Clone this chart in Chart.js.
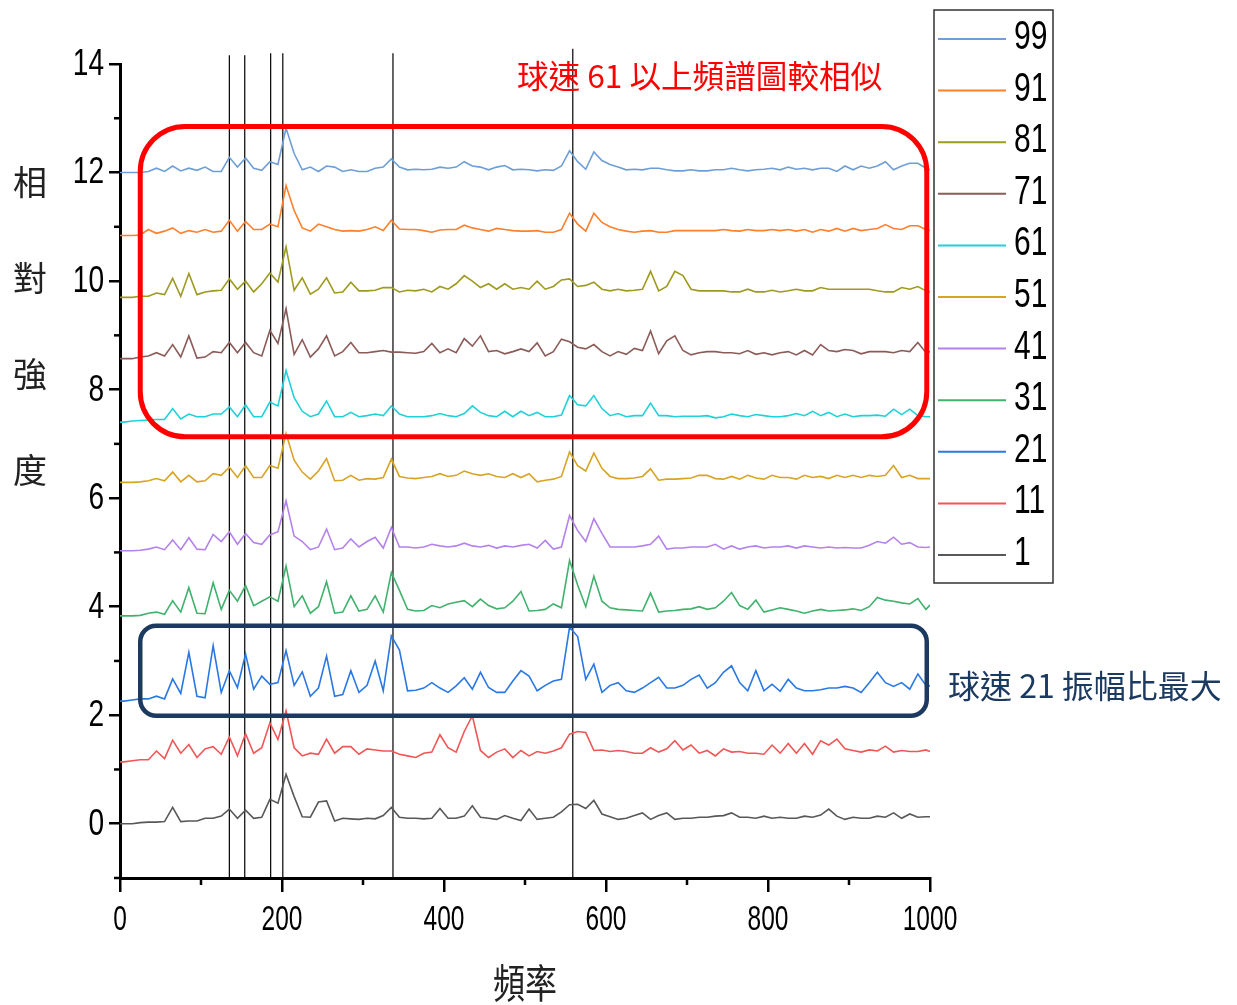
<!DOCTYPE html>
<html>
<head>
<meta charset="utf-8">
<script src="https://cdn.jsdelivr.net/npm/chart.js@4.4.1/dist/chart.umd.min.js"></script>
<style>
  html, body { margin: 0; padding: 0; background: #fff; }
  canvas { display: block; }
</style>
</head>
<body>
<canvas id="miGrafico" width="1237" height="1005"></canvas>
<script>
// frecuencias (eje x)
const frecuencias = [0,
  5, 15, 25, 35, 45, 55, 65, 75, 85, 95,
  105, 115, 125, 135, 145, 155, 165, 175, 185, 195,
  205, 215, 225, 235, 245, 255, 265, 275, 285, 295,
  305, 315, 325, 335, 345, 355, 365, 375, 385, 395,
  405, 415, 425, 435, 445, 455, 465, 475, 485, 495,
  505, 515, 525, 535, 545, 555, 565, 575, 585, 595,
  605, 615, 625, 635, 645, 655, 665, 675, 685, 695,
  705, 715, 725, 735, 745, 755, 765, 775, 785, 795,
  805, 815, 825, 835, 845, 855, 865, 875, 885, 895,
  905, 915, 925, 935, 945, 955, 965, 975, 985, 995,
  1000]

// intensidad relativa por velocidad de bola
const v99 = [12.0,
  12.0, 12.0, 12.0, 12.02, 12.08, 12.02, 12.12, 12.03, 12.08, 12.04,
  12.1, 12.02, 12.02, 12.28, 12.1, 12.27, 12.08, 12.04, 12.2, 12.15,
  12.82, 12.35, 12.05, 12.1, 12.02, 12.12, 12.1, 12.02, 12.05, 12.02,
  12.02, 12.08, 12.1, 12.25, 12.1, 12.05, 12.06, 12.05, 12.06, 12.1,
  12.08, 12.1, 12.2, 12.12, 12.1, 12.05, 12.1, 12.13, 12.05, 12.06,
  12.05, 12.03, 12.05, 12.04, 12.12, 12.4, 12.2, 12.06, 12.38, 12.22,
  12.15, 12.1, 12.05, 12.06, 12.05, 12.08, 12.08, 12.05, 12.03, 12.03,
  12.05, 12.03, 12.03, 12.05, 12.05, 12.08, 12.05, 12.03, 12.05, 12.06,
  12.08, 12.05, 12.1, 12.06, 12.08, 12.05, 12.08, 12.08, 12.02, 12.12,
  12.05, 12.12, 12.08, 12.12, 12.2, 12.05, 12.12, 12.17, 12.17, 12.08,
  12.05]
const v91 = [10.84,
  10.84, 10.84, 10.85, 10.95, 10.88, 10.92, 10.98, 10.88, 10.93, 10.9,
  10.95, 10.9, 10.92, 11.12, 10.92, 11.1, 10.95, 10.95, 11.05, 11.0,
  11.76, 11.3, 10.98, 10.92, 11.05, 11.0, 10.95, 10.92, 10.93, 10.92,
  10.95, 11.0, 10.93, 11.12, 10.96, 10.95, 10.95, 10.93, 10.9, 10.94,
  10.95, 10.95, 11.03, 10.98, 10.95, 10.92, 10.97, 10.95, 10.93, 10.92,
  10.92, 10.93, 10.9, 10.9, 10.95, 11.25, 11.05, 10.92, 11.25, 11.08,
  11.0, 10.95, 10.92, 10.9, 10.92, 10.93, 10.9, 10.9, 10.93, 10.93,
  10.93, 10.93, 10.93, 10.93, 10.95, 10.93, 10.92, 10.95, 10.93, 10.93,
  10.95, 10.93, 10.95, 10.92, 10.95, 10.9, 10.95, 10.92, 10.97, 10.92,
  10.97, 10.93, 10.95, 10.97, 11.04, 10.97, 10.95, 11.02, 11.02, 10.95,
  10.93]
const v81 = [9.7,
  9.7, 9.7, 9.72, 9.72, 9.78, 9.75, 10.05, 9.72, 10.14, 9.75,
  9.8, 9.82, 9.83, 10.04, 9.85, 10.0, 9.8, 9.95, 10.15, 9.98,
  10.63, 9.83, 10.06, 9.76, 9.85, 10.06, 9.78, 9.8, 9.98, 9.82,
  9.82, 9.83, 9.88, 9.88, 9.8, 9.83, 9.82, 9.85, 9.8, 9.9,
  9.85, 9.95, 10.1, 10.0, 9.88, 9.95, 9.85, 9.95, 9.85, 9.88,
  9.85, 10.0, 9.85, 9.9, 10.02, 10.04, 9.9, 9.92, 9.98, 9.85,
  9.82, 9.85, 9.82, 9.83, 9.85, 10.18, 9.82, 9.9, 10.18, 10.1,
  9.85, 9.82, 9.82, 9.82, 9.82, 9.8, 9.8, 9.85, 9.8, 9.8,
  9.83, 9.8, 9.82, 9.85, 9.82, 9.82, 9.88, 9.85, 9.85, 9.85,
  9.85, 9.85, 9.85, 9.82, 9.8, 9.8, 9.88, 9.85, 9.9, 9.82,
  9.8]
const v71 = [8.57,
  8.57, 8.57, 8.6, 8.62, 8.68, 8.62, 8.83, 8.6, 8.99, 8.58,
  8.6, 8.7, 8.68, 8.87, 8.68, 8.87, 8.68, 8.62, 9.09, 8.85,
  9.49, 8.65, 8.92, 8.6, 8.75, 8.99, 8.62, 8.7, 8.87, 8.68,
  8.68, 8.7, 8.72, 8.69, 8.69, 8.68, 8.67, 8.7, 8.85, 8.68,
  8.75, 8.68, 8.94, 8.8, 8.99, 8.7, 8.72, 8.66, 8.7, 8.75,
  8.7, 8.86, 8.62, 8.7, 8.93, 8.88, 8.78, 8.75, 8.83, 8.7,
  8.62, 8.7, 8.65, 8.76, 8.72, 9.08, 8.66, 8.9, 8.99, 8.72,
  8.64, 8.68, 8.7, 8.7, 8.68, 8.68, 8.66, 8.72, 8.65, 8.68,
  8.64, 8.68, 8.7, 8.64, 8.72, 8.64, 8.83, 8.72, 8.7, 8.74,
  8.72, 8.66, 8.7, 8.7, 8.7, 8.68, 8.72, 8.7, 8.87, 8.68,
  8.7]
const v61 = [7.4,
  7.4, 7.42, 7.43, 7.44, 7.45, 7.45, 7.65, 7.46, 7.55, 7.5,
  7.5, 7.55, 7.55, 7.68, 7.5, 7.72, 7.5, 7.5, 7.77, 7.7,
  8.35, 7.85, 7.6, 7.5, 7.55, 7.79, 7.5, 7.5, 7.58, 7.5,
  7.52, 7.55, 7.52, 7.7, 7.55, 7.5, 7.5, 7.5, 7.52, 7.56,
  7.52, 7.5, 7.56, 7.7, 7.58, 7.52, 7.5, 7.6, 7.5, 7.6,
  7.52, 7.58, 7.5, 7.5, 7.53, 7.89, 7.72, 7.7, 7.89, 7.65,
  7.52, 7.56, 7.5, 7.52, 7.52, 7.75, 7.52, 7.52, 7.5, 7.51,
  7.51, 7.51, 7.52, 7.48, 7.5, 7.55, 7.52, 7.5, 7.54, 7.52,
  7.5, 7.5, 7.52, 7.56, 7.52, 7.6, 7.52, 7.58, 7.5, 7.55,
  7.5, 7.52, 7.52, 7.53, 7.51, 7.64, 7.54, 7.64, 7.52, 7.5,
  7.5]
const v51 = [6.29,
  6.29, 6.29, 6.3, 6.32, 6.36, 6.32, 6.48, 6.3, 6.42, 6.3,
  6.32, 6.45, 6.42, 6.57, 6.38, 6.6, 6.38, 6.38, 6.6, 6.55,
  7.19, 6.7, 6.48, 6.35, 6.5, 6.73, 6.32, 6.33, 6.42, 6.33,
  6.36, 6.35, 6.38, 6.72, 6.4, 6.37, 6.36, 6.38, 6.4, 6.45,
  6.4, 6.42, 6.5, 6.45, 6.42, 6.45, 6.4, 6.38, 6.45, 6.38,
  6.45, 6.3, 6.33, 6.35, 6.4, 6.85, 6.6, 6.5, 6.83, 6.55,
  6.4, 6.36, 6.36, 6.37, 6.4, 6.54, 6.33, 6.35, 6.35, 6.36,
  6.37, 6.42, 6.42, 6.36, 6.35, 6.4, 6.35, 6.42, 6.37, 6.35,
  6.42, 6.38, 6.38, 6.35, 6.42, 6.38, 6.4, 6.36, 6.42, 6.38,
  6.42, 6.38, 6.42, 6.4, 6.42, 6.6, 6.38, 6.42, 6.36, 6.36,
  6.36]
const v41 = [5.03,
  5.03, 5.03, 5.04, 5.06, 5.1, 5.05, 5.23, 5.05, 5.27, 5.06,
  5.05, 5.33, 5.2, 5.38, 5.15, 5.35, 5.18, 5.15, 5.32, 5.38,
  5.95, 5.3, 5.2, 5.05, 5.1, 5.43, 5.05, 5.08, 5.25, 5.1,
  5.2, 5.28, 5.08, 5.46, 5.1, 5.1, 5.08, 5.1, 5.15, 5.12,
  5.1, 5.12, 5.17, 5.12, 5.1, 5.13, 5.08, 5.12, 5.1, 5.13,
  5.15, 5.08, 5.22, 5.06, 5.1, 5.68, 5.4, 5.2, 5.62, 5.35,
  5.1, 5.1, 5.1, 5.1, 5.12, 5.15, 5.3, 5.06, 5.08, 5.08,
  5.1, 5.1, 5.1, 5.15, 5.06, 5.12, 5.06, 5.1, 5.12, 5.08,
  5.1, 5.1, 5.12, 5.08, 5.12, 5.1, 5.08, 5.1, 5.08, 5.09,
  5.08, 5.08, 5.13, 5.2, 5.17, 5.28, 5.15, 5.18, 5.1, 5.09,
  5.1]
const v31 = [3.83,
  3.83, 3.83, 3.84, 3.88, 3.9, 3.86, 4.11, 3.9, 4.35, 3.88,
  3.87, 4.44, 3.95, 4.3, 4.1, 4.39, 4.02, 4.1, 4.18, 4.1,
  4.75, 4.0, 4.2, 3.88, 4.0, 4.46, 3.88, 3.9, 4.2, 3.92,
  3.95, 4.2, 3.9, 4.63, 4.3, 3.95, 3.92, 3.93, 4.02, 3.98,
  4.05, 4.08, 4.11, 4.0, 4.14, 4.02, 3.96, 3.98, 4.1, 4.28,
  3.92, 3.93, 3.95, 4.05, 3.98, 4.85, 4.4, 4.0, 4.56, 4.1,
  3.98, 3.95, 3.94, 3.93, 3.92, 4.25, 3.9, 3.92, 3.93, 3.95,
  3.96, 4.0, 3.95, 3.98, 4.1, 4.26, 4.02, 3.95, 4.12, 3.9,
  3.94, 3.98, 3.95, 3.92, 3.88, 3.92, 3.95, 3.92, 3.93, 3.94,
  3.96, 3.93, 4.0, 4.17, 4.12, 4.1, 4.07, 4.05, 4.15, 3.95,
  4.03]
const v21 = [2.26,
  2.26, 2.28, 2.3, 2.3, 2.35, 2.3, 2.67, 2.4, 3.16, 2.35,
  2.32, 3.28, 2.42, 2.82, 2.51, 3.13, 2.48, 2.72, 2.57, 2.6,
  3.19, 2.55, 2.8, 2.35, 2.5, 3.09, 2.35, 2.38, 2.82, 2.42,
  2.55, 3.0, 2.45, 3.46, 3.2, 2.45, 2.46, 2.5, 2.6, 2.5,
  2.42, 2.54, 2.69, 2.48, 2.79, 2.51, 2.42, 2.42, 2.63, 2.82,
  2.72, 2.45, 2.55, 2.63, 2.66, 3.62, 3.45, 2.66, 2.94, 2.42,
  2.55, 2.6, 2.45, 2.42, 2.5, 2.6, 2.7, 2.5, 2.5, 2.55,
  2.66, 2.74, 2.5, 2.6, 2.79, 2.91, 2.6, 2.45, 2.82, 2.45,
  2.57, 2.44, 2.66, 2.5, 2.45, 2.45, 2.47, 2.5, 2.5, 2.53,
  2.5, 2.42, 2.6, 2.79, 2.6, 2.53, 2.6, 2.48, 2.76, 2.55,
  2.54]
const v11 = [1.14,
  1.14, 1.16, 1.18, 1.18, 1.34, 1.2, 1.54, 1.3, 1.46, 1.22,
  1.38, 1.42, 1.28, 1.6, 1.25, 1.66, 1.3, 1.4, 1.86, 1.55,
  2.08, 1.4, 1.25, 1.3, 1.28, 1.56, 1.3, 1.42, 1.42, 1.28,
  1.38, 1.36, 1.34, 1.34, 1.28, 1.25, 1.22, 1.3, 1.32, 1.64,
  1.4, 1.32, 1.7, 1.99, 1.35, 1.22, 1.32, 1.38, 1.22, 1.35,
  1.25, 1.33, 1.3, 1.34, 1.4, 1.65, 1.7, 1.68, 1.35, 1.36,
  1.33, 1.35, 1.33, 1.3, 1.3, 1.4, 1.32, 1.38, 1.53, 1.36,
  1.45, 1.3, 1.35, 1.25, 1.38, 1.32, 1.33, 1.3, 1.3, 1.28,
  1.45, 1.3, 1.48, 1.3, 1.48, 1.28, 1.53, 1.45, 1.56, 1.38,
  1.35, 1.32, 1.36, 1.34, 1.43, 1.32, 1.35, 1.33, 1.33, 1.36,
  1.33]
const v1 = [0.0,
  0.0, 0.0, 0.02, 0.03, 0.03, 0.04, 0.3, 0.04, 0.05, 0.05,
  0.1, 0.1, 0.14, 0.27, 0.1, 0.25, 0.1, 0.12, 0.45, 0.38,
  0.91, 0.5, 0.13, 0.12, 0.4, 0.42, 0.05, 0.1, 0.09, 0.08,
  0.1, 0.09, 0.15, 0.3, 0.12, 0.1, 0.1, 0.09, 0.1, 0.28,
  0.1, 0.1, 0.14, 0.33, 0.12, 0.1, 0.08, 0.15, 0.1, 0.06,
  0.27, 0.08, 0.1, 0.12, 0.22, 0.35, 0.36, 0.28, 0.43, 0.18,
  0.13, 0.08, 0.1, 0.15, 0.2, 0.08, 0.15, 0.2, 0.08, 0.1,
  0.1, 0.12, 0.12, 0.14, 0.15, 0.2, 0.12, 0.12, 0.1, 0.14,
  0.1, 0.12, 0.1, 0.1, 0.14, 0.12, 0.16, 0.27, 0.14, 0.08,
  0.12, 0.1, 0.1, 0.14, 0.12, 0.2, 0.1, 0.18, 0.12, 0.13,
  0.13]

const series = [v99, v91, v81, v71, v61, v51, v41, v31, v21, v11, v1]
const etiquetas = ['99', '91', '81', '71', '61', '51', '41', '31', '21', '11', '1']
const colores = ['#6d9fd6', '#ff7f2a', '#9e9a1e', '#8b5b58', '#1fd1d8', '#d8a423',
  '#b482ea', '#40b26d', '#2a78e3', '#f25555', '#585858']

// ticks
const yMayores = [0, 2, 4, 6, 8, 10, 12, 14]
const yMenores = [-1, 1, 3, 5, 7, 9, 11, 13]
const xMayores = [0, 200, 400, 600, 800, 1000]
const xMenores = [100, 300, 500, 700, 900]

// lineas verticales de referencia
const lineasX = [135, 154, 186, 201, 337, 559]
const lineasTope = [14.16, 14.16, 14.2, 14.2, 14.2, 14.28]

// recuadros [x0, x1, y0, y1]
const cajaRoja = [25, 996, 7.13, 12.85]
const cajaAzul = [25, 996, 1.99, 3.65]

const fuenteCJK = '"Noto Sans CJK TC", "Noto Sans CJK SC", sans-serif'
const fuenteNum = '"Liberation Sans", Arial, sans-serif'

const rectRedondo = (ctx, x0, y0, x1, y1, r) => {
    ctx.beginPath()
    ctx.moveTo(x0 + r, y0)
    ctx.lineTo(x1 - r, y0)
    ctx.arcTo(x1, y0, x1, y0 + r, r)
    ctx.lineTo(x1, y1 - r)
    ctx.arcTo(x1, y1, x1 - r, y1, r)
    ctx.lineTo(x0 + r, y1)
    ctx.arcTo(x0, y1, x0, y1 - r, r)
    ctx.lineTo(x0, y0 + r)
    ctx.arcTo(x0, y0, x0 + r, y0, r)
    ctx.closePath()
    ctx.stroke()
}

const textoEscalado = (ctx, texto, x, y, sx, sy, alinear) => {
    ctx.save()
    ctx.translate(x, y)
    ctx.scale(sx, sy)
    ctx.textAlign = alinear
    ctx.textBaseline = 'middle'
    ctx.fillText(texto, 0, 0)
    ctx.restore()
}

const decoracion = {
    id: 'decoracion',
    afterDatasetsDraw(chart) {
        const { ctx, scales: { x, y } } = chart
        ctx.save()
        ctx.strokeStyle = '#ff0000'
        ctx.lineWidth = 5
        rectRedondo(ctx, x.getPixelForValue(cajaRoja[0]), y.getPixelForValue(cajaRoja[3]),
            x.getPixelForValue(cajaRoja[1]), y.getPixelForValue(cajaRoja[2]), 45)
        ctx.strokeStyle = '#1c3a60'
        ctx.lineWidth = 4.5
        rectRedondo(ctx, x.getPixelForValue(cajaAzul[0]), y.getPixelForValue(cajaAzul[3]),
            x.getPixelForValue(cajaAzul[1]), y.getPixelForValue(cajaAzul[2]), 16)
        ctx.restore()
    },
    afterDraw(chart) {
        const { ctx, chartArea, scales: { x, y } } = chart
        ctx.save()
        ctx.strokeStyle = '#000'
        ctx.fillStyle = '#000'
        ctx.lineWidth = 2.5

        // ticks menores
        yMenores.forEach(v => {
            const py = y.getPixelForValue(v)
            ctx.beginPath()
            ctx.moveTo(chartArea.left - 6, py)
            ctx.lineTo(chartArea.left, py)
            ctx.stroke()
        })
        xMenores.forEach(v => {
            const px = x.getPixelForValue(v)
            ctx.beginPath()
            ctx.moveTo(px, chartArea.bottom)
            ctx.lineTo(px, chartArea.bottom + 7)
            ctx.stroke()
        })

        // etiquetas de los ejes
        ctx.font = '36px ' + fuenteNum
        yMayores.forEach(v => {
            textoEscalado(ctx, String(v), chartArea.left - 16, y.getPixelForValue(v) + 1, 0.78, 1, 'right')
        })
        ctx.font = '35px ' + fuenteNum
        xMayores.forEach(v => {
            textoEscalado(ctx, String(v), x.getPixelForValue(v), chartArea.bottom + 42, 0.7, 1, 'center')
        })

        // titulos
        ctx.fillStyle = '#222'
        ctx.font = '34px ' + fuenteCJK
        const tituloY = ['相', '對', '強', '度']
        tituloY.forEach((c, i) => textoEscalado(ctx, c, 30, 182 + i * 96, 1, 1, 'center'))
        ctx.font = '32px ' + fuenteCJK
        textoEscalado(ctx, '頻率', 525, 983, 1, 1.25, 'center')

        // anotaciones
        ctx.fillStyle = '#ff0000'
        ctx.font = '31.6px ' + fuenteCJK
        textoEscalado(ctx, '球速 61 以上頻譜圖較相似', 517, 76, 1, 1, 'left')
        ctx.fillStyle = '#1c3a60'
        ctx.font = '32px ' + fuenteCJK
        textoEscalado(ctx, '球速 21 振幅比最大', 948, 686, 1, 1, 'left')

        // leyenda
        ctx.strokeStyle = '#333'
        ctx.lineWidth = 1.5
        ctx.strokeRect(934, 10, 119, 573)
        ctx.font = '40px ' + fuenteNum
        etiquetas.forEach((et, i) => {
            const cy = 37 + i * 51.6
            ctx.strokeStyle = colores[i]
            ctx.lineWidth = 2
            ctx.beginPath()
            ctx.moveTo(938, cy + 2)
            ctx.lineTo(1006, cy + 2)
            ctx.stroke()
            ctx.fillStyle = '#000'
            textoEscalado(ctx, et, 1014, cy + 1, 0.75, 1, 'left')
        })
        ctx.restore()
    }
}

const conjuntos = series.map((s, i) => ({
    label: etiquetas[i],
    data: frecuencias.map((f, j) => ({ x: f, y: s[j] })),
    borderColor: colores[i],
    borderWidth: 1.6,
    pointRadius: 0,
    tension: 0
}))

lineasX.forEach((lx, i) => {
    conjuntos.push({
        label: '',
        data: [{ x: lx, y: -1 }, { x: lx, y: lineasTope[i] }],
        borderColor: '#000',
        borderWidth: 1.2,
        pointRadius: 0,
        clip: false
    })
})

const miGrafico = new Chart(document.getElementById('miGrafico').getContext('2d'), {
    type: 'line',
    data: { datasets: conjuntos },
    options: {
        responsive: false,
        animation: false,
        layout: { padding: { left: 109, right: 307, top: 64, bottom: 113 } },
        plugins: { legend: { display: false }, tooltip: { enabled: false } },
        scales: {
            x: {
                type: 'linear',
                min: 0,
                max: 1000,
                afterBuildTicks: eje => { eje.ticks = xMayores.map(v => ({ value: v })) },
                ticks: { display: false },
                grid: { drawOnChartArea: false, color: '#000', lineWidth: 2.5, tickLength: 14 },
                border: { color: '#000', width: 3 }
            },
            y: {
                min: -1,
                max: 14,
                afterBuildTicks: eje => { eje.ticks = yMayores.map(v => ({ value: v })) },
                ticks: { display: false },
                grid: { drawOnChartArea: false, color: '#000', lineWidth: 2.5, tickLength: 11 },
                border: { color: '#000', width: 3 }
            }
        }
    },
    plugins: [decoracion]
})
</script>
</body>
</html>
